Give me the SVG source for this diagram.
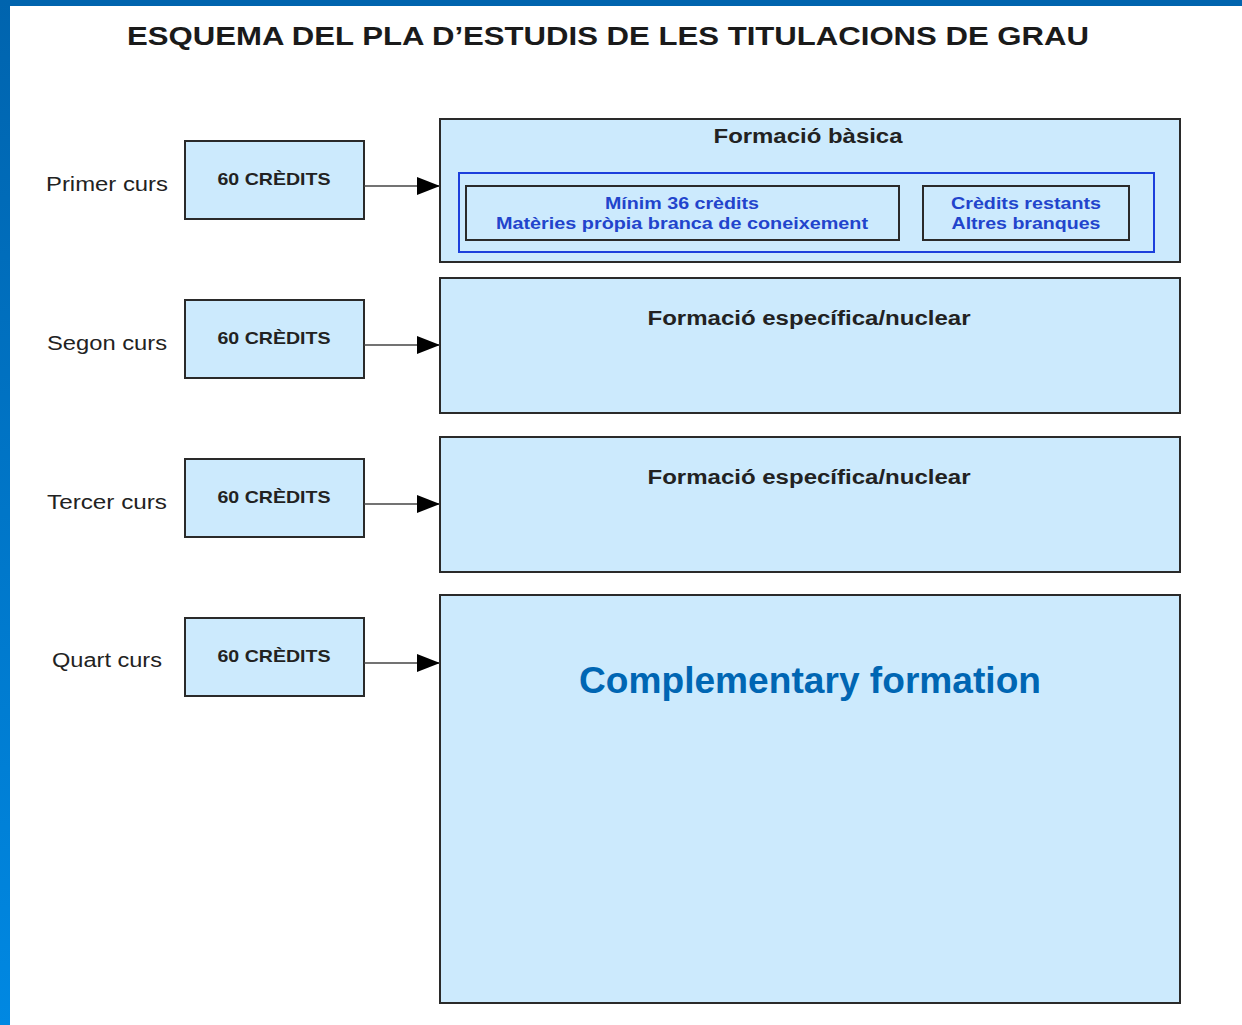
<svg xmlns="http://www.w3.org/2000/svg" width="1242" height="1025" viewBox="0 0 1242 1025">
<style>
.box{fill:#cceafd;stroke:#2a2a2a;stroke-width:2}
.inner{fill:#cceafd;stroke:#2a2a2a;stroke-width:2}
.blue{fill:none;stroke:#1c3fdc;stroke-width:2}
.lbl{font-family:"Liberation Sans",Arial,sans-serif;font-size:20px;fill:#222}
.cr{font-family:"Liberation Sans",Arial,sans-serif;font-size:17px;font-weight:bold;fill:#222}
.hd{font-family:"Liberation Sans",Arial,sans-serif;font-size:20px;font-weight:bold;fill:#222}
.bt{font-family:"Liberation Sans",Arial,sans-serif;font-size:17px;font-weight:bold;fill:#2244cc}
.conn{stroke:#444;stroke-width:1.5;fill:none}
</style>
<defs>
<linearGradient id="side" x1="0" y1="0" x2="0" y2="1">
<stop offset="0" stop-color="#0064ae"/>
<stop offset="1" stop-color="#0088e2"/>
</linearGradient>
<marker id="arr" markerWidth="24" markerHeight="18" refX="23" refY="9" orient="auto" markerUnits="userSpaceOnUse">
<path d="M0,0 L23,9 L0,18 Z" fill="#000"/>
</marker>
</defs>
<rect x="0" y="0" width="1242" height="1025" fill="#fff"/>
<rect x="0" y="0" width="1242" height="6" fill="#0064ae"/>
<rect x="0" y="0" width="10" height="1025" fill="url(#side)"/>
<text x="608" y="45" text-anchor="middle" font-family="Liberation Sans,Arial,sans-serif" font-size="25" font-weight="bold" fill="#1a1a1a" textLength="962" lengthAdjust="spacingAndGlyphs">ESQUEMA DEL PLA D’ESTUDIS DE LES TITULACIONS DE GRAU</text>

<g id="primer">
<text class="lbl" x="107" y="191" text-anchor="middle" textLength="122" lengthAdjust="spacingAndGlyphs">Primer curs</text>
<rect class="box" x="185" y="141" width="179" height="78"/>
<text class="cr" x="274" y="185" text-anchor="middle" textLength="113" lengthAdjust="spacingAndGlyphs">60 CRÈDITS</text>
</g>
<g id="segon">
<text class="lbl" x="107" y="350" text-anchor="middle" textLength="120" lengthAdjust="spacingAndGlyphs">Segon curs</text>
<rect class="box" x="185" y="300" width="179" height="78"/>
<text class="cr" x="274" y="344" text-anchor="middle" textLength="113" lengthAdjust="spacingAndGlyphs">60 CRÈDITS</text>
</g>
<g id="tercer">
<text class="lbl" x="107" y="509" text-anchor="middle" textLength="120" lengthAdjust="spacingAndGlyphs">Tercer curs</text>
<rect class="box" x="185" y="459" width="179" height="78"/>
<text class="cr" x="274" y="503" text-anchor="middle" textLength="113" lengthAdjust="spacingAndGlyphs">60 CRÈDITS</text>
</g>
<g id="quart">
<text class="lbl" x="107" y="667" text-anchor="middle" textLength="110" lengthAdjust="spacingAndGlyphs">Quart curs</text>
<rect class="box" x="185" y="618" width="179" height="78"/>
<text class="cr" x="274" y="662" text-anchor="middle" textLength="113" lengthAdjust="spacingAndGlyphs">60 CRÈDITS</text>
</g>

<g id="basica">
<rect class="box" x="440" y="119" width="740" height="143"/>
<text class="hd" x="808" y="143" text-anchor="middle" textLength="189" lengthAdjust="spacingAndGlyphs">Formació bàsica</text>
<rect class="blue" x="459" y="173" width="695" height="79"/>
<rect class="inner" x="466" y="186" width="433" height="54"/>
<text class="bt" x="682" y="209" text-anchor="middle" textLength="154" lengthAdjust="spacingAndGlyphs">Mínim 36 crèdits</text>
<text class="bt" x="682" y="229" text-anchor="middle" textLength="372" lengthAdjust="spacingAndGlyphs">Matèries pròpia branca de coneixement</text>
<rect class="inner" x="923" y="186" width="206" height="54"/>
<text class="bt" x="1026" y="209" text-anchor="middle" textLength="150" lengthAdjust="spacingAndGlyphs">Crèdits restants</text>
<text class="bt" x="1026" y="229" text-anchor="middle" textLength="149" lengthAdjust="spacingAndGlyphs">Altres branques</text>
</g>
<g id="nuclear1">
<rect class="box" x="440" y="278" width="740" height="135"/>
<text class="hd" x="809" y="325" text-anchor="middle" textLength="323" lengthAdjust="spacingAndGlyphs">Formació específica/nuclear</text>
</g>
<g id="nuclear2">
<rect class="box" x="440" y="437" width="740" height="135"/>
<text class="hd" x="809" y="484" text-anchor="middle" textLength="323" lengthAdjust="spacingAndGlyphs">Formació específica/nuclear</text>
</g>
<g id="complementary">
<rect class="box" x="440" y="595" width="740" height="408"/>
<text x="810" y="693" text-anchor="middle" font-family="Liberation Sans,Arial,sans-serif" font-size="37" font-weight="bold" fill="#0066b3" textLength="462" lengthAdjust="spacingAndGlyphs">Complementary formation</text>
</g>

<g id="connectors">
<line class="conn" x1="364" y1="186" x2="440" y2="186" marker-end="url(#arr)"/>
<line class="conn" x1="364" y1="345" x2="440" y2="345" marker-end="url(#arr)"/>
<line class="conn" x1="364" y1="504" x2="440" y2="504" marker-end="url(#arr)"/>
<line class="conn" x1="364" y1="663" x2="440" y2="663" marker-end="url(#arr)"/>
</g>
</svg>
